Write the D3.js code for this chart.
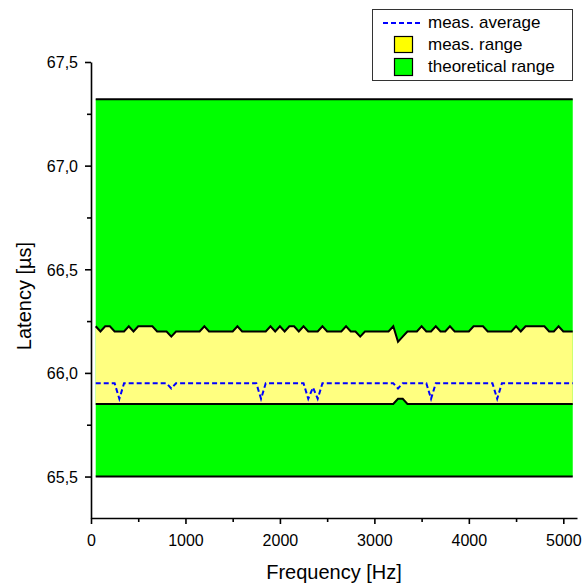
<!DOCTYPE html>
<html>
<head>
<meta charset="utf-8">
<script src="https://cdn.jsdelivr.net/npm/d3@7"></script>
<style>
  html, body { margin: 0; padding: 0; background: #fff; }
  svg text { font-family: "Liberation Sans", Arial, sans-serif; fill: #000; }
</style>
</head>
<body>
<svg id="chart" width="582" height="588"></svg>
<script>
// Measurement frequencies (Hz)
const freqHz = [
  50, 100, 150, 200, 250, 300, 350, 400, 450, 500,
  550, 600, 650, 700, 750, 800, 850, 900, 950, 1000,
  1050, 1100, 1150, 1200, 1250, 1300, 1350, 1400, 1450, 1500,
  1550, 1600, 1650, 1700, 1750, 1800, 1850, 1900, 1950, 2000,
  2050, 2100, 2150, 2200, 2250, 2300, 2350, 2400, 2450, 2500,
  2550, 2600, 2650, 2700, 2750, 2800, 2850, 2900, 2950, 3000,
  3050, 3100, 3150, 3200, 3250, 3300, 3350, 3400, 3450, 3500,
  3550, 3600, 3650, 3700, 3750, 3800, 3850, 3900, 3950, 4000,
  4050, 4100, 4150, 4200, 4250, 4300, 4350, 4400, 4450, 4500,
  4550, 4600, 4650, 4700, 4750, 4800, 4850, 4900, 4950, 5000,
  5050, 5100
];

// Measured maximum latency (µs)
const measMax = [
  66.225, 66.2, 66.225, 66.225, 66.2, 66.2, 66.2, 66.225, 66.2, 66.225,
  66.225, 66.225, 66.225, 66.2, 66.2, 66.2, 66.175, 66.2, 66.2, 66.2,
  66.2, 66.2, 66.2, 66.225, 66.2, 66.2, 66.2, 66.2, 66.2, 66.2,
  66.225, 66.2, 66.2, 66.2, 66.2, 66.2, 66.2, 66.225, 66.2, 66.225,
  66.2, 66.225, 66.225, 66.2, 66.225, 66.2, 66.2, 66.2, 66.225, 66.2,
  66.2, 66.2, 66.2, 66.225, 66.2, 66.2, 66.175, 66.2, 66.2, 66.2,
  66.2, 66.2, 66.2, 66.225, 66.15, 66.175, 66.2, 66.2, 66.2, 66.225,
  66.2, 66.2, 66.225, 66.2, 66.2, 66.225, 66.2, 66.2, 66.2, 66.2,
  66.225, 66.225, 66.225, 66.2, 66.2, 66.2, 66.2, 66.2, 66.2, 66.225,
  66.2, 66.225, 66.225, 66.225, 66.225, 66.225, 66.2, 66.2, 66.225, 66.2,
  66.2, 66.2
];

// Measured minimum latency (µs)
const measMin = [
  65.85, 65.85, 65.85, 65.85, 65.85, 65.85, 65.85, 65.85, 65.85, 65.85,
  65.85, 65.85, 65.85, 65.85, 65.85, 65.85, 65.85, 65.85, 65.85, 65.85,
  65.85, 65.85, 65.85, 65.85, 65.85, 65.85, 65.85, 65.85, 65.85, 65.85,
  65.85, 65.85, 65.85, 65.85, 65.85, 65.85, 65.85, 65.85, 65.85, 65.85,
  65.85, 65.85, 65.85, 65.85, 65.85, 65.85, 65.85, 65.85, 65.85, 65.85,
  65.85, 65.85, 65.85, 65.85, 65.85, 65.85, 65.85, 65.85, 65.85, 65.85,
  65.85, 65.85, 65.85, 65.85, 65.875, 65.875, 65.85, 65.85, 65.85, 65.85,
  65.85, 65.85, 65.85, 65.85, 65.85, 65.85, 65.85, 65.85, 65.85, 65.85,
  65.85, 65.85, 65.85, 65.85, 65.85, 65.85, 65.85, 65.85, 65.85, 65.85,
  65.85, 65.85, 65.85, 65.85, 65.85, 65.85, 65.85, 65.85, 65.85, 65.85,
  65.85, 65.85
];

// Measured average latency (µs)
const measAvg = [
  65.95, 65.95, 65.95, 65.95, 65.95, 65.875, 65.95, 65.95, 65.95, 65.95,
  65.95, 65.95, 65.95, 65.95, 65.95, 65.95, 65.925, 65.95, 65.95, 65.95,
  65.95, 65.95, 65.95, 65.95, 65.95, 65.95, 65.95, 65.95, 65.95, 65.95,
  65.95, 65.95, 65.95, 65.95, 65.95, 65.875, 65.95, 65.95, 65.95, 65.95,
  65.95, 65.95, 65.95, 65.95, 65.95, 65.875, 65.93, 65.875, 65.95, 65.95,
  65.95, 65.95, 65.95, 65.95, 65.95, 65.95, 65.95, 65.95, 65.95, 65.95,
  65.95, 65.95, 65.95, 65.95, 65.925, 65.95, 65.95, 65.95, 65.95, 65.95,
  65.95, 65.875, 65.95, 65.95, 65.95, 65.95, 65.95, 65.95, 65.95, 65.95,
  65.95, 65.95, 65.95, 65.95, 65.95, 65.875, 65.95, 65.95, 65.95, 65.95,
  65.95, 65.95, 65.95, 65.95, 65.95, 65.95, 65.95, 65.95, 65.95, 65.95,
  65.95, 65.95
];

// Theoretical latency bounds (µs)
const theoryMin = 65.5;
const theoryMax = 67.32;

// Axis ticks
const xMajorTicks = [0, 1000, 2000, 3000, 4000, 5000];
const xMinorTicks = [500, 1500, 2500, 3500, 4500];
const yMajorTicks = [65.5, 66.0, 66.5, 67.0, 67.5];
const yMinorTicks = [65.75, 66.25, 66.75, 67.25];

const legendItems = ["meas. average", "meas. range", "theoretical range"];

const svg = d3.select("#chart");

const x = d3.scaleLinear().domain([0, 5145]).range([91, 577]);
const y = d3.scaleLinear().domain([65.3, 67.5]).range([518, 62]);

const rows = freqHz.map((f, i) => ({ f, lo: measMin[i], hi: measMax[i], avg: measAvg[i] }));
const fFirst = freqHz[0], fLast = freqHz[freqHz.length - 1];

// Theoretical range band
svg.append("rect")
  .attr("x", x(fFirst)).attr("y", y(theoryMax))
  .attr("width", x(fLast) - x(fFirst)).attr("height", y(theoryMin) - y(theoryMax))
  .attr("fill", "#00ff00");

// Measured range band
const band = d3.area().x(d => x(d.f)).y0(d => y(d.lo)).y1(d => y(d.hi));
svg.append("path").datum(rows).attr("d", band).attr("fill", "#ffff80");

// Boundary lines
const boundLine = d3.line();
[theoryMax, theoryMin].forEach(v => {
  svg.append("path")
    .attr("d", boundLine([[x(fFirst), y(v)], [x(fLast), y(v)]]))
    .attr("stroke", "#000").attr("stroke-width", 2).attr("fill", "none");
});
svg.append("path").datum(rows)
  .attr("d", d3.line().x(d => x(d.f)).y(d => y(d.hi)))
  .attr("stroke", "#000").attr("stroke-width", 2).attr("fill", "none")
  .attr("stroke-linejoin", "miter");
svg.append("path").datum(rows)
  .attr("d", d3.line().x(d => x(d.f)).y(d => y(d.lo)))
  .attr("stroke", "#000").attr("stroke-width", 2).attr("fill", "none");

// Average line
svg.append("path").datum(rows)
  .attr("d", d3.line().x(d => x(d.f)).y(d => y(d.avg)))
  .attr("stroke", "#0000ff").attr("stroke-width", 2).attr("fill", "none")
  .attr("stroke-dasharray", "5,3");

// X axis
const fmtComma = d => d3.format(".1f")(d).replace(".", ",");
const xAxis = svg.append("g").attr("transform", "translate(0,518)");
xAxis.call(d3.axisBottom(x).tickValues(xMajorTicks).tickSize(6).tickSizeOuter(0).tickFormat(d3.format("d")));
const xMinor = svg.append("g").attr("transform", "translate(0,518)");
xMinor.call(d3.axisBottom(x).tickValues(xMinorTicks).tickSize(4).tickSizeOuter(0).tickFormat(""));
xMinor.select(".domain").remove();

// Y axis
const yAxis = svg.append("g").attr("transform", "translate(91,0)");
yAxis.call(d3.axisLeft(y).tickValues(yMajorTicks).tickSize(6).tickSizeOuter(0).tickFormat(fmtComma));
const yMinor = svg.append("g").attr("transform", "translate(91,0)");
yMinor.call(d3.axisLeft(y).tickValues(yMinorTicks).tickSize(4).tickSizeOuter(0).tickFormat(""));
yMinor.select(".domain").remove();

svg.selectAll(".domain").attr("stroke", "#000").attr("stroke-width", 1.6);
svg.selectAll(".tick line").attr("stroke", "#000").attr("stroke-width", 1.6);
xAxis.selectAll("text").attr("font-size", 16).attr("dy", null).attr("y", 28)
  .style("font-family", "Liberation Sans, Arial, sans-serif");
yAxis.selectAll("text").attr("font-size", 16).attr("x", -13).attr("dy", "0.36em")
  .style("font-family", "Liberation Sans, Arial, sans-serif");

// Axis titles
svg.append("text").attr("x", 334).attr("y", 579).attr("text-anchor", "middle")
  .attr("font-size", 20).text("Frequency [Hz]");
svg.append("text").attr("transform", "translate(31,296) rotate(-90)").attr("text-anchor", "middle")
  .attr("font-size", 20).text("Latency [µs]");

// Legend
const lg = svg.append("g");
lg.append("rect").attr("x", 372.5).attr("y", 9.5).attr("width", 200).attr("height", 71)
  .attr("fill", "#fff").attr("stroke", "#333").attr("stroke-width", 1);
lg.append("line").attr("x1", 383).attr("x2", 422).attr("y1", 23).attr("y2", 23)
  .attr("stroke", "#0000ff").attr("stroke-width", 2).attr("stroke-dasharray", "5,3");
lg.append("rect").attr("x", 394.5).attr("y", 36.5).attr("width", 18).attr("height", 16)
  .attr("fill", "#ffff00").attr("stroke", "#000").attr("stroke-width", 1.2);
lg.append("rect").attr("x", 394.5).attr("y", 58.5).attr("width", 18).attr("height", 17)
  .attr("fill", "#00ff00").attr("stroke", "#000").attr("stroke-width", 1.2);
lg.selectAll("text.item").data(legendItems).enter().append("text")
  .attr("class", "item").attr("x", 428).attr("y", (d, i) => 28 + i * 22)
  .attr("font-size", 17).text(d => d);
</script>
</body>
</html>
